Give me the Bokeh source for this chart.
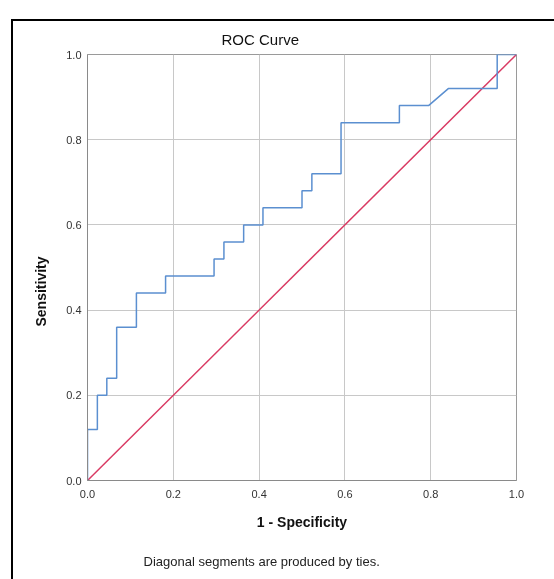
from bokeh.plotting import figure
from bokeh.models import FixedTicker, Range1d, Title
from bokeh.embed import file_html
from bokeh.resources import INLINE

# ROC curve vertices (1 - specificity, sensitivity)
fpr = [0.0, 0.0, 0.023, 0.023, 0.045, 0.045, 0.068, 0.068, 0.114, 0.114,
       0.182, 0.182, 0.295, 0.295, 0.318, 0.318, 0.364, 0.364, 0.409, 0.409,
       0.500, 0.500, 0.523, 0.523, 0.591, 0.591, 0.727, 0.727, 0.795, 0.841,
       0.955, 0.955, 1.0]
tpr = [0.0, 0.12, 0.12, 0.20, 0.20, 0.24, 0.24, 0.36, 0.36, 0.44,
       0.44, 0.48, 0.48, 0.52, 0.52, 0.56, 0.56, 0.60, 0.60, 0.64,
       0.64, 0.68, 0.68, 0.72, 0.72, 0.84, 0.84, 0.88, 0.88, 0.92,
       0.92, 1.0, 1.0]
ref_x = [0.0, 1.0]
ref_y = [0.0, 1.0]
tick_values = [0.0, 0.2, 0.4, 0.6, 0.8, 1.0]
tick_labels = ["0.0", "0.2", "0.4", "0.6", "0.8", "1.0"]

FONT = "Liberation Sans"

p = figure(frame_width=429, frame_height=426,
           x_range=Range1d(0, 1), y_range=Range1d(0, 1),
           output_backend="svg", toolbar_location=None,
           min_border_left=74, min_border_top=32, min_border_right=38,
           min_border_bottom=0)
p.styles = {"position": "fixed", "left": "11px", "top": "19px",
            "border-left": "2px solid #000", "border-top": "2px solid #000"}

p.outline_line_color = "#9a9a9a"
p.outline_line_width = 1

p.title.text = "ROC Curve"
p.title.align = "left"
p.title.offset = 134
p.title.standoff = 14
p.title.text_font = FONT
p.title.text_font_size = "15px"
p.title.text_font_style = "normal"
p.title.text_color = "#111111"

for ax in (p.xaxis[0], p.yaxis[0]):
    ax.ticker = FixedTicker(ticks=tick_values)
    ax.major_label_overrides = {v: l for v, l in zip(tick_values, tick_labels)}
    ax.major_tick_out = 0
    ax.major_tick_in = 0
    ax.minor_tick_out = 0
    ax.minor_tick_in = 0
    ax.axis_line_color = "#8a8a8a"
    ax.major_label_text_font = FONT
    ax.major_label_text_font_size = "11px"
    ax.major_label_text_color = "#333333"
    ax.axis_label_text_font = FONT
    ax.axis_label_text_font_style = "bold"
    ax.axis_label_text_font_size = "14px"
    ax.axis_label_text_color = "#111111"

p.xaxis[0].axis_label = "1 - Specificity"
p.xaxis[0].major_label_standoff = 9
p.xaxis[0].axis_label_standoff = 13
p.yaxis[0].major_label_standoff = 6

ylab = Title(text="Sensitivity", align="left", offset=154, standoff=30,
             text_font=FONT, text_font_size="14px", text_font_style="bold",
             text_color="#111111")
p.add_layout(ylab, "left")

p.xgrid.ticker = FixedTicker(ticks=tick_values)
p.ygrid.ticker = FixedTicker(ticks=tick_values)
p.grid.grid_line_color = "#c8c8c8"
p.grid.grid_line_width = 1

p.line(ref_x, ref_y, line_color="#d93a63", line_width=1.5)
p.line(fpr, tpr, line_color="#5b8fd0", line_width=1.5)

note = Title(text="Diagonal segments are produced by ties.", align="left",
             offset=56, standoff=40, vertical_align="middle",
             text_font=FONT, text_font_size="13px", text_font_style="normal",
             text_color="#222222")
p.add_layout(note, "below")

open("out.html", "w").write(file_html(p, INLINE))
